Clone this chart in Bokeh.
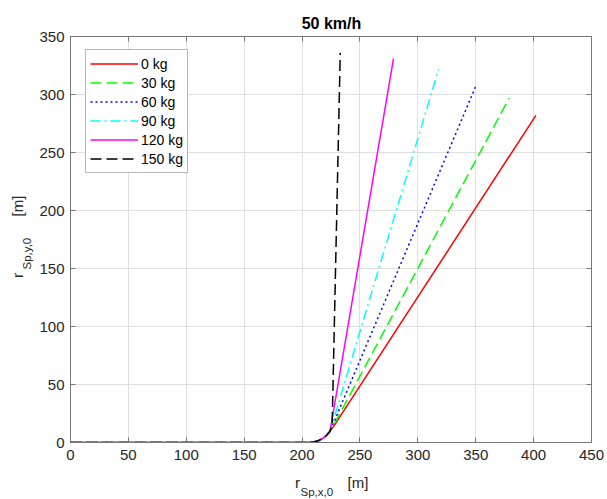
from bokeh.plotting import figure
from bokeh.models import (LinearAxis, Label, Legend, LegendItem, Range1d, FixedTicker,
                          CustomLabelingPolicy)
from bokeh.embed import file_html
from bokeh.resources import INLINE

# ---------------- data ----------------
title_text = "50 km/h"
x_ticks = [0, 50, 100, 150, 200, 250, 300, 350, 400, 450]
y_ticks = [0, 50, 100, 150, 200, 250, 300, 350]

labels = ["0 kg", "30 kg", "60 kg", "90 kg", "120 kg", "150 kg"]

x_0kg = [0, 205, 210, 214, 218, 221, 224, 227, 402]
y_0kg = [0, 0, 0.5, 1.5, 3.5, 6, 9.5, 13.5, 282]

x_30kg = [0, 205, 210, 214, 218, 221, 224, 226.5, 379]
y_30kg = [0, 0, 0.5, 1.5, 3.5, 6, 9.5, 13.5, 297]

x_60kg = [0, 205, 210, 214, 218, 221, 224, 226, 350]
y_60kg = [0, 0, 0.5, 1.5, 3.5, 6, 9.5, 14, 307]

x_90kg = [0, 205, 210, 214, 218, 221, 224, 225.5, 318]
y_90kg = [0, 0, 0.5, 1.5, 3.5, 6, 9.5, 14, 322]

x_120kg = [0, 205, 210, 214, 218, 221, 224, 225, 279]
y_120kg = [0, 0, 0.5, 1.5, 3.5, 6, 9.5, 14.5, 331]

x_150kg = [0, 205, 210, 214, 218, 221, 224, 226, 233]
y_150kg = [0, 0, 0.5, 1.5, 3.5, 6, 9.5, 15, 336]

series_x = [x_0kg, x_30kg, x_60kg, x_90kg, x_120kg, x_150kg]
series_y = [y_0kg, y_30kg, y_60kg, y_90kg, y_120kg, y_150kg]
colors = ["#ff0000", "#00ff00", "#0000ff", "#00ffff", "#ff00ff", "#000000"]
dashes = ["solid", "11 5", "2 3", "10 4 2 4", "solid", "11 5"]

# ---------------- layout ----------------
FONT = "Liberation Sans"
AX = "#777777"
TXT = "#262626"
FW, FH = 521, 406
XMAX, YMAX = 450, 350
FL, FT = 70, 36   # frame position in the picture

def dx(px):
    return (px - FL) / FW * XMAX

def dy(py):
    return (FT + FH - py) / FH * YMAX

p = figure(frame_width=FW, frame_height=FH,
           x_range=Range1d(0, XMAX), y_range=Range1d(0, YMAX),
           output_backend="svg", toolbar_location=None, title=None,
           min_border_left=FL, min_border_right=14,
           min_border_top=FT, min_border_bottom=57)
p.background_fill_color = "white"
p.border_fill_color = "white"
p.outline_line_color = None

no_labels = CustomLabelingPolicy(code="""
    const all = [...indices]
    for (const i of all) indices.unset(i)
    return indices
""")

def style_axis(ax, ticks, show_labels):
    ax.ticker = FixedTicker(ticks=ticks)
    ax.major_tick_in = 5
    ax.major_tick_out = 0
    ax.minor_tick_in = 0
    ax.minor_tick_out = 0
    ax.axis_line_color = AX
    ax.major_tick_line_color = AX
    ax.axis_line_width = 1
    ax.major_label_text_font = FONT
    ax.major_label_text_color = TXT
    if show_labels:
        ax.major_label_text_font_size = "15px"
    else:
        ax.major_label_policy = no_labels
        ax.major_label_text_font_size = "1px"
        ax.major_label_standoff = 0

style_axis(p.xaxis[0], x_ticks, True)
style_axis(p.yaxis[0], y_ticks, True)
p.xaxis[0].major_label_standoff = 7
p.yaxis[0].major_label_standoff = 6

top = LinearAxis()
style_axis(top, x_ticks, False)
p.add_layout(top, "above")
right = LinearAxis()
style_axis(right, y_ticks, False)
p.add_layout(right, "right")

p.xgrid.ticker = FixedTicker(ticks=x_ticks)
p.ygrid.ticker = FixedTicker(ticks=y_ticks)
p.xgrid.grid_line_color = "#dfdfdf"
p.ygrid.grid_line_color = "#dfdfdf"

renderers = []
for xs, ys, c, d in zip(series_x, series_y, colors, dashes):
    r = p.line(xs, ys, line_color=c, line_width=1.5, line_dash=d)
    renderers.append(r)

legend = Legend(items=[LegendItem(label=l, renderers=[r]) for l, r in zip(labels, renderers)],
                location=(15, 269))
legend.label_text_font = FONT
legend.label_text_font_size = "14px"
legend.label_text_color = "#000000"
legend.label_text_baseline = "middle"
legend.border_line_color = "#6e6e6e"
legend.border_line_width = 1
legend.background_fill_color = "white"
legend.background_fill_alpha = 1
legend.padding = 4
legend.spacing = 0
legend.label_height = 19
legend.glyph_height = 19
legend.glyph_width = 48
legend.label_standoff = 3
legend.margin = 0
p.add_layout(legend)

# Text labels outside the frame. They live in side panels (so they are not clipped
# to the frame); the panel is chosen so each panel stays within its border size.
def lab(side, px, py, text, size, bold=False, angle=0.0, align="left"):
    p.add_layout(Label(x=dx(px), y=dy(py), text=text, text_align=align, angle=angle,
                       text_baseline="alphabetic", text_font=FONT,
                       text_font_style="bold" if bold else "normal",
                       text_font_size=size, text_color="#000000" if bold else TXT), side)

ang = 1.5707963267948966

# title
lab("above", 331, 23, title_text, "16px", bold=True, align="center")

# x axis label: r_{Sp,x,0} [m]
lab("right", 294.5, 482, "r", "15.5px")
lab("below", 300, 491.5, "Sp,x,0", "11.5px")
lab("below", 347, 482, "[m]", "15px")

# y axis label: r_{Sp,y,0} [m] (rotated)
lab("above", 17, 277.5, "r", "15.5px", angle=ang)
lab("left", 26.5, 269, "Sp,y,0", "11.5px", angle=ang)
lab("left", 17, 216, "[m]", "15px", angle=ang)

open("out.html", "w").write(file_html(p, INLINE))
